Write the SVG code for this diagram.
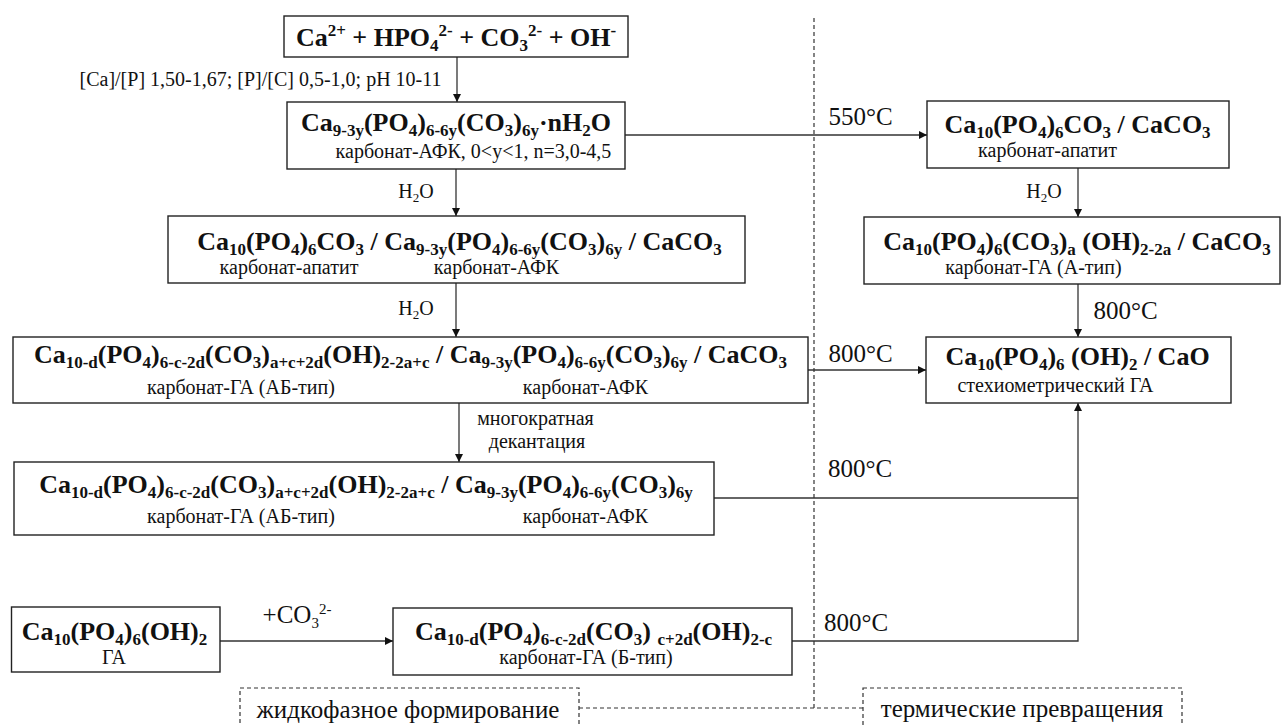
<svg xmlns="http://www.w3.org/2000/svg" width="1282" height="726" viewBox="0 0 1282 726">
<style>
text{font-family:"Liberation Serif","Times New Roman","DejaVu Serif",serif;fill:#111}
.f{font-size:26px;font-weight:bold;text-anchor:middle}
.b{font-size:17px}
.s{font-size:20px;text-anchor:middle}
.t{font-size:25px;text-anchor:middle}
.box{fill:#fff;stroke:#222;stroke-width:1.4}
.dbox{fill:none;stroke:#333;stroke-width:1.2;stroke-dasharray:4 3}
.c{fill:none;stroke:#333;stroke-width:1.3}
.d{fill:none;stroke:#333;stroke-width:1.2;stroke-dasharray:4 3}
</style>
<defs>
<marker id="ah" viewBox="0 0 10 10" refX="10" refY="5" markerWidth="9" markerHeight="8" orient="auto" markerUnits="userSpaceOnUse"><path d="M0,0 L10,5 L0,10 z" fill="#111"/></marker>
</defs>
<rect width="1282" height="726" fill="#fff"/>
<g id="connectors">
<line class="c" x1="457" y1="57" x2="457" y2="102" marker-end="url(#ah)"/>
<line class="c" x1="625" y1="135" x2="927" y2="135" marker-end="url(#ah)"/>
<line class="c" x1="456" y1="169" x2="456" y2="216" marker-end="url(#ah)"/>
<line class="c" x1="456" y1="283" x2="456" y2="337" marker-end="url(#ah)"/>
<line class="c" x1="808" y1="370" x2="926" y2="370" marker-end="url(#ah)"/>
<line class="c" x1="459" y1="403" x2="459" y2="462" marker-end="url(#ah)"/>
<line class="c" x1="1078" y1="168" x2="1078" y2="217" marker-end="url(#ah)"/>
<line class="c" x1="1078" y1="284" x2="1078" y2="337" marker-end="url(#ah)"/>
<polyline class="c" points="714,498 1078,498"/>
<polyline class="c" points="792,641 1078,641 1078,403" marker-end="url(#ah)"/>
<line class="c" x1="220" y1="641" x2="393" y2="641" marker-end="url(#ah)"/>
<line class="d" x1="814" y1="18" x2="814" y2="708"/>
<line class="d" x1="579" y1="708" x2="863" y2="708"/>
<text class="s" x="260.5" y="86">[Ca]/[P] 1,50-1,67; [P]/[C] 0,5-1,0; pH 10-11</text>
<text class="t" x="860.5" y="125">550°C</text>
<text class="s" x="416" y="198">H<tspan font-size="13" dy="4">2</tspan><tspan dy="-4">O</tspan></text>
<text class="s" x="416" y="315">H<tspan font-size="13" dy="4">2</tspan><tspan dy="-4">O</tspan></text>
<text class="s" x="1044" y="198">H<tspan font-size="13" dy="4">2</tspan><tspan dy="-4">O</tspan></text>
<text class="t" x="1125.5" y="319">800°C</text>
<text class="t" x="860.5" y="362">800°C</text>
<text class="t" x="860" y="477">800°C</text>
<text class="t" x="856" y="631">800°C</text>
<text class="s" x="535.5" y="425">многократная</text>
<text class="s" x="537" y="448">декантация</text>
<text class="t" x="297" y="623" font-size="24">+CO<tspan font-size="15" dy="5">3</tspan><tspan font-size="15" dy="-14">2-</tspan></text>
</g>
<g id="n-top">
<rect class="box" x="284" y="16" width="344" height="41"/>
<text class="f" x="456" y="46">Ca<tspan class="b" dy="-10">2+</tspan><tspan dy="10"> + HPO</tspan><tspan class="b" dy="5">4</tspan><tspan class="b" dy="-15">2-</tspan><tspan dy="10"> + CO</tspan><tspan class="b" dy="5">3</tspan><tspan class="b" dy="-15">2-</tspan><tspan dy="10"> + OH</tspan><tspan class="b" dy="-10">-</tspan></text>
</g>
<g id="n-afk">
<rect class="box" x="287" y="102" width="338" height="67"/>
<text class="f" x="456" y="131">Ca<tspan class="b" dy="5">9-3y</tspan><tspan dy="-5">(PO</tspan><tspan class="b" dy="5">4</tspan><tspan dy="-5">)</tspan><tspan class="b" dy="5">6-6y</tspan><tspan dy="-5">(CO</tspan><tspan class="b" dy="5">3</tspan><tspan dy="-5">)</tspan><tspan class="b" dy="5">6y</tspan><tspan dy="-5">·nH</tspan><tspan class="b" dy="5">2</tspan><tspan dy="-5">O</tspan></text>
<text class="s" x="473.5" y="158">карбонат-АФК, 0&lt;y&lt;1, n=3,0-4,5</text>
</g>
<g id="n-ca">
<rect class="box" x="927" y="101" width="302" height="67"/>
<text class="f" x="1077.5" y="133">Ca<tspan class="b" dy="5">10</tspan><tspan dy="-5">(PO</tspan><tspan class="b" dy="5">4</tspan><tspan dy="-5">)</tspan><tspan class="b" dy="5">6</tspan><tspan dy="-5">CO</tspan><tspan class="b" dy="5">3</tspan><tspan dy="-5"> / CaCO</tspan><tspan class="b" dy="5">3</tspan></text>
<text class="s" x="1047.5" y="157">карбонат-апатит</text>
</g>
<g id="n-gaA">
<rect class="box" x="864" y="217" width="416" height="67"/>
<text class="f" x="1077" y="250">Ca<tspan class="b" dy="5">10</tspan><tspan dy="-5">(PO</tspan><tspan class="b" dy="5">4</tspan><tspan dy="-5">)</tspan><tspan class="b" dy="5">6</tspan><tspan dy="-5">(CO</tspan><tspan class="b" dy="5">3</tspan><tspan dy="-5">)</tspan><tspan class="b" dy="5">a</tspan><tspan dy="-5"> (OH)</tspan><tspan class="b" dy="5">2-2a</tspan><tspan dy="-5"> / CaCO</tspan><tspan class="b" dy="5">3</tspan></text>
<text class="s" x="1033.5" y="274">карбонат-ГА (А-тип)</text>
</g>
<g id="n-mix1">
<rect class="box" x="168" y="216" width="577" height="67"/>
<text class="f" x="459.5" y="250">Ca<tspan class="b" dy="5">10</tspan><tspan dy="-5">(PO</tspan><tspan class="b" dy="5">4</tspan><tspan dy="-5">)</tspan><tspan class="b" dy="5">6</tspan><tspan dy="-5">CO</tspan><tspan class="b" dy="5">3</tspan><tspan dy="-5"> / Ca</tspan><tspan class="b" dy="5">9-3y</tspan><tspan dy="-5">(PO</tspan><tspan class="b" dy="5">4</tspan><tspan dy="-5">)</tspan><tspan class="b" dy="5">6-6y</tspan><tspan dy="-5">(CO</tspan><tspan class="b" dy="5">3</tspan><tspan dy="-5">)</tspan><tspan class="b" dy="5">6y</tspan><tspan dy="-5"> / CaCO</tspan><tspan class="b" dy="5">3</tspan></text>
<text class="s" x="289" y="274">карбонат-апатит</text>
<text class="s" x="496.5" y="274">карбонат-АФК</text>
</g>
<g id="n-mix2">
<rect class="box" x="13" y="337" width="795" height="66"/>
<text class="f" x="410.5" y="363">Ca<tspan class="b" dy="5">10-d</tspan><tspan dy="-5">(PO</tspan><tspan class="b" dy="5">4</tspan><tspan dy="-5">)</tspan><tspan class="b" dy="5">6-c-2d</tspan><tspan dy="-5">(CO</tspan><tspan class="b" dy="5">3</tspan><tspan dy="-5">)</tspan><tspan class="b" dy="5">a+c+2d</tspan><tspan dy="-5">(OH)</tspan><tspan class="b" dy="5">2-2a+c</tspan><tspan dy="-5"> / Ca</tspan><tspan class="b" dy="5">9-3y</tspan><tspan dy="-5">(PO</tspan><tspan class="b" dy="5">4</tspan><tspan dy="-5">)</tspan><tspan class="b" dy="5">6-6y</tspan><tspan dy="-5">(CO</tspan><tspan class="b" dy="5">3</tspan><tspan dy="-5">)</tspan><tspan class="b" dy="5">6y</tspan><tspan dy="-5"> / CaCO</tspan><tspan class="b" dy="5">3</tspan></text>
<text class="s" x="241" y="394">карбонат-ГА (АБ-тип)</text>
<text class="s" x="585.5" y="394">карбонат-АФК</text>
</g>
<g id="n-ga">
<rect class="box" x="926" y="337" width="305" height="66"/>
<text class="f" x="1077.5" y="365">Ca<tspan class="b" dy="5">10</tspan><tspan dy="-5">(PO</tspan><tspan class="b" dy="5">4</tspan><tspan dy="-5">)</tspan><tspan class="b" dy="5">6</tspan><tspan dy="-5"> (OH)</tspan><tspan class="b" dy="5">2</tspan><tspan dy="-5"> / CaO</tspan></text>
<text class="s" x="1055.5" y="392">стехиометрический ГА</text>
</g>
<g id="n-mix3">
<rect class="box" x="14" y="462" width="700" height="73"/>
<text class="f" x="366" y="493">Ca<tspan class="b" dy="5">10-d</tspan><tspan dy="-5">(PO</tspan><tspan class="b" dy="5">4</tspan><tspan dy="-5">)</tspan><tspan class="b" dy="5">6-c-2d</tspan><tspan dy="-5">(CO</tspan><tspan class="b" dy="5">3</tspan><tspan dy="-5">)</tspan><tspan class="b" dy="5">a+c+2d</tspan><tspan dy="-5">(OH)</tspan><tspan class="b" dy="5">2-2a+c</tspan><tspan dy="-5"> / Ca</tspan><tspan class="b" dy="5">9-3y</tspan><tspan dy="-5">(PO</tspan><tspan class="b" dy="5">4</tspan><tspan dy="-5">)</tspan><tspan class="b" dy="5">6-6y</tspan><tspan dy="-5">(CO</tspan><tspan class="b" dy="5">3</tspan><tspan dy="-5">)</tspan><tspan class="b" dy="5">6y</tspan></text>
<text class="s" x="241" y="523">карбонат-ГА (АБ-тип)</text>
<text class="s" x="585.5" y="523">карбонат-АФК</text>
</g>
<g id="n-ha">
<rect class="box" x="11.5" y="607" width="208.5" height="65"/>
<text class="f" x="114.5" y="640">Ca<tspan class="b" dy="5">10</tspan><tspan dy="-5">(PO</tspan><tspan class="b" dy="5">4</tspan><tspan dy="-5">)</tspan><tspan class="b" dy="5">6</tspan><tspan dy="-5">(OH)</tspan><tspan class="b" dy="5">2</tspan></text>
<text class="s" x="114" y="664">ГА</text>
</g>
<g id="n-gaB">
<rect class="box" x="393" y="608" width="399" height="67"/>
<text class="f" x="593.5" y="640">Ca<tspan class="b" dy="5">10-d</tspan><tspan dy="-5">(PO</tspan><tspan class="b" dy="5">4</tspan><tspan dy="-5">)</tspan><tspan class="b" dy="5">6-c-2d</tspan><tspan dy="-5">(CO</tspan><tspan class="b" dy="5">3</tspan><tspan dy="-5">) </tspan><tspan class="b" dy="5">c+2d</tspan><tspan dy="-5">(OH)</tspan><tspan class="b" dy="5">2-c</tspan></text>
<text class="s" x="586" y="664">карбонат-ГА (Б-тип)</text>
</g>
<g id="n-liquid">
<rect class="dbox" x="240" y="688" width="339" height="60"/>
<text class="t" x="408" y="718" font-size="26">жидкофазное формирование</text>
</g>
<g id="n-thermal">
<rect class="dbox" x="863" y="688" width="319" height="60"/>
<text class="t" x="1022" y="717" font-size="26">термические превращения</text>
</g>
</svg>
